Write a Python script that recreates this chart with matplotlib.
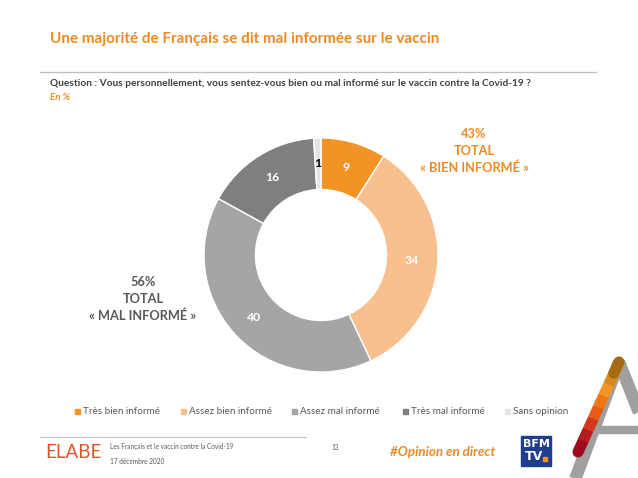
import matplotlib
matplotlib.use("Agg")
import matplotlib.pyplot as plt
from matplotlib.lines import Line2D
from matplotlib.patches import Rectangle
import numpy as np

# data
categories = ["Très bien informé", "Assez bien informé", "Assez mal informé",
              "Très mal informé", "Sans opinion"]
values = [9, 34, 40, 16, 1]
colors = ["#F39325", "#F8C08F", "#A5A5A5", "#7F7F7F", "#E4E4E4"]
label_colors = ["white", "white", "white", "white", "black"]
total_bien = "43%\nTOTAL\n« BIEN INFORMÉ »"
total_mal = "56%\nTOTAL\n« MAL INFORMÉ »"

W, H = 638, 478
ORANGE = "#EE8A23"
plt.rcParams['font.family'] = ['Lato', 'DejaVu Sans']

fig = plt.figure(figsize=(W / 100, H / 100), dpi=100)


def fx(x):
    return x / W


def fy(y):
    return 1 - y / H


# header
fig.text(fx(50), fy(39), "Une majorité de Français se dit mal informée sur le vaccin",
         color=ORANGE, fontsize=11, fontweight="bold", va="center")
fig.add_artist(Line2D([fx(40), fx(596)], [fy(72), fy(72)], color="#BFBFBF", lw=0.9))
fig.text(fx(50), fy(84), "Question : Vous personnellement, vous sentez-vous bien ou mal informé sur le vaccin contre la Covid-19 ?",
         color="#404040", fontsize=7.3, fontweight="bold", va="center")
fig.text(fx(50), fy(97), "En %", color=ORANGE, fontsize=7, fontweight="bold",
         style="italic", va="center")

# donut
cx, cy, r = 321, 255, 117
ax = fig.add_axes([fx(cx - r), fy(cy + r), 2 * r / W, 2 * r / H])
wedges, _ = ax.pie(values, colors=colors, startangle=90, counterclock=False,
                   radius=1, wedgeprops=dict(width=0.44, edgecolor="white", linewidth=1))
ax.set_xlim(-1, 1)
ax.set_ylim(-1, 1)
ax.axis("off")
for w, v, c in zip(wedges, values, label_colors):
    ang = np.deg2rad((w.theta1 + w.theta2) / 2)
    rr = 0.78
    ax.text(rr * np.cos(ang), rr * np.sin(ang), str(v), ha="center", va="center",
            color=c, fontsize=8.8, fontweight="bold")

fig.text(fx(474), fy(151), total_bien, color=ORANGE, fontsize=9.2, fontweight="bold",
         ha="center", va="center", linespacing=1.45)
fig.text(fx(143), fy(299), total_mal, color="#595959", fontsize=9.2, fontweight="bold",
         ha="center", va="center", linespacing=1.45)

# legend
leg_x = [77, 183, 294, 405, 507]
for x, lab, col in zip(leg_x, categories, colors):
    fig.add_artist(Rectangle((fx(x - 2.5), fy(413.5)), 5 / W, 5 / H, color=col,
                             transform=fig.transFigure))
    fig.text(fx(x + 6), fy(411), lab, color="#595959", fontsize=7.1, va="center")

# footer
fig.add_artist(Line2D([fx(40), fx(306)], [fy(437), fy(437)], color="#BFBFBF", lw=0.8))
fig.text(fx(45), fy(453), "ELABE", color="#E0542A", fontsize=13.5, fontweight="normal",
         va="center")
fig.text(fx(110), fy(447), "Les Français et le vaccin contre la Covid-19",
         color="#595959", fontsize=4.7, va="center")
fig.text(fx(110), fy(461), "17 décembre 2020", color="#595959", fontsize=4.7, va="center")
fig.text(fx(335), fy(447), "13", color="#595959", fontsize=4.7, va="center", ha="center")
fig.text(fx(390), fy(452), "#Opinion en direct", color=ORANGE, fontsize=9.6,
         fontweight="bold", style="italic", va="center")

# BFM TV logo
fig.add_artist(Rectangle((fx(521), fy(466)), 30 / W, 30 / H, color="#1F3F8C",
                         transform=fig.transFigure))
fig.text(fx(536), fy(444), "BFM", color="white", fontsize=8, fontweight="bold",
         family="DejaVu Sans", ha="center", va="center")
fig.text(fx(534), fy(457), "TV", color="white", fontsize=9, fontweight="bold",
         family="DejaVu Sans", ha="center", va="center")
fig.add_artist(Rectangle((fx(543), fy(461)), 4 / W, 4 / H, color="#F39325",
                         transform=fig.transFigure))

# corner logo
gray = "#A0A0A0"
fig.add_artist(Line2D([fx(573), fx(619)], [fy(485), fy(362)], color=gray, lw=9,
                      solid_capstyle="butt", transform=fig.transFigure))
fig.add_artist(Line2D([fx(619), fx(650)], [fy(362), fy(440)], color=gray, lw=9,
                      solid_capstyle="butt", transform=fig.transFigure))
fig.add_artist(Rectangle((fx(585), fy(433)), 60 / W, 7 / H, color=gray,
                         transform=fig.transFigure))
grad = ["#9E0B1E", "#B81B1C", "#D2381A", "#E85A15", "#F07512", "#F39325", "#D98A1A", "#A86A10"]
xs = np.linspace(578, 619, len(grad) + 1)
ys = np.linspace(452, 362, len(grad) + 1)
for i, col in enumerate(grad):
    cap = "round" if i in (0, len(grad) - 1) else "butt"
    fig.add_artist(Line2D([fx(xs[i]), fx(xs[i + 1])], [fy(ys[i]), fy(ys[i + 1])],
                          color=col, lw=8, solid_capstyle=cap,
                          transform=fig.transFigure))

fig.savefig("out.png", dpi=100, facecolor="white")
